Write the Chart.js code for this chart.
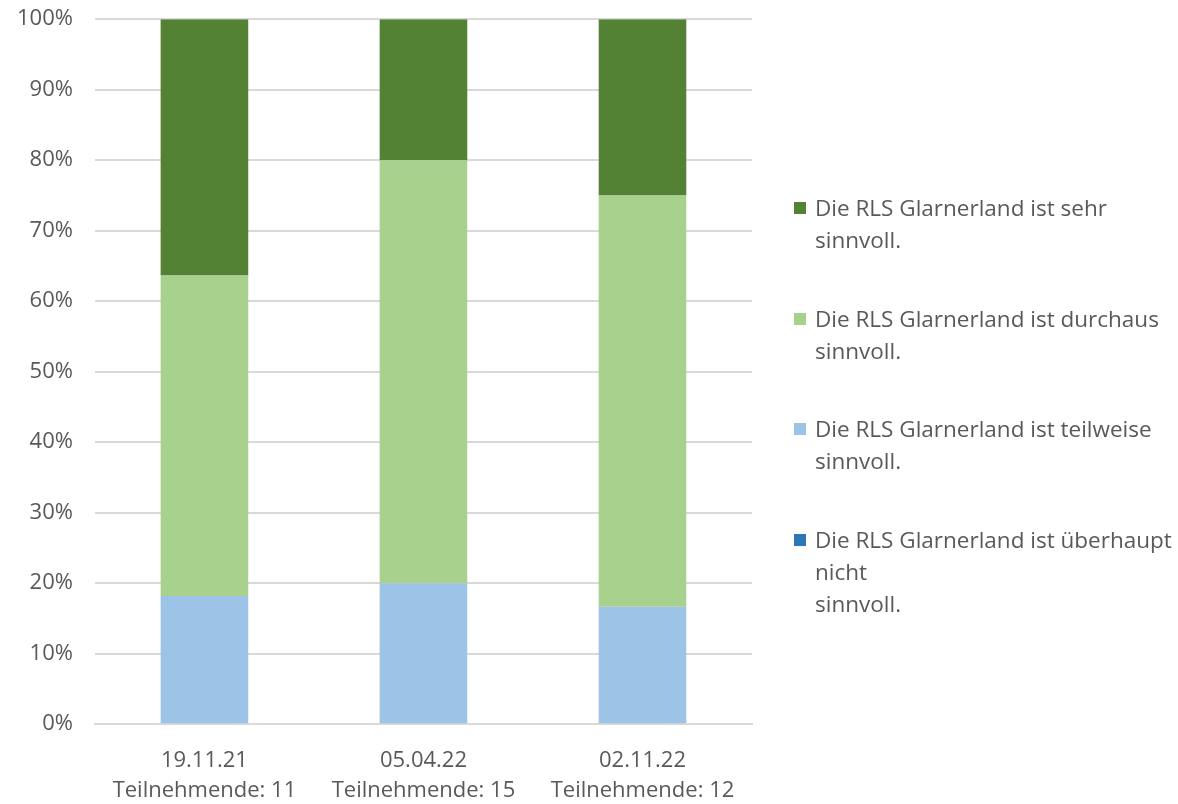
<!DOCTYPE html>
<html><head><meta charset="utf-8">
<script src="https://cdn.jsdelivr.net/npm/chart.js@4/dist/chart.umd.min.js"></script>
<style>
html,body{margin:0;padding:0;background:#fff;overflow:hidden;}
#wrap{position:relative;width:1178px;height:804px;overflow:hidden;}
#c{position:absolute;left:-5px;top:-16px;}
#legend{position:absolute;left:794px;top:0;font-family:"Open Sans",sans-serif;font-size:22.5px;color:#595959;line-height:32px;}
.item{position:absolute;left:0;white-space:nowrap;}
.sw{position:absolute;left:0;top:10px;width:12px;height:12px;}
.tx{position:absolute;left:21px;top:0;}
</style></head><body>
<div id="wrap"><canvas id="c" width="1183" height="844"></canvas><div id="legend"></div></div>
<script>
const categories = [["19.11.21","Teilnehmende: 11"],["05.04.22","Teilnehmende: 15"],["02.11.22","Teilnehmende: 12"]];
const seriesNames = [
  ["Die RLS Glarnerland ist überhaupt","nicht","sinnvoll."],
  ["Die RLS Glarnerland ist teilweise","sinnvoll."],
  ["Die RLS Glarnerland ist durchaus","sinnvoll."],
  ["Die RLS Glarnerland ist sehr","sinnvoll."]
];
const ueberhauptNicht = [0, 0, 0];
const teilweise = [18.18, 20.0, 16.67];
const durchaus = [45.45, 60.0, 58.33];
const sehr = [36.36, 20.0, 25.0];
const colors = ["#2E75B6","#9DC3E6","#A9D18E","#548235"];
const yTicks = [0,10,20,30,40,50,60,70,80,90,100];

const allData = [ueberhauptNicht, teilweise, durchaus, sehr];
const datasets = allData.map((d,i)=>({
  label: seriesNames[i].join(" "),
  data: d,
  backgroundColor: colors[i],
  borderWidth: 0,
  categoryPercentage: 1.0,
  barPercentage: 0.4
}));

new Chart(document.getElementById("c"), {
  type: "bar",
  data: { labels: categories, datasets },
  options: {
    responsive: false,
    animation: false,
    layout: { padding: { left: 0, top: 0, right: 426, bottom: 0 } },
    plugins: { legend: { display: false }, tooltip: { enabled: false } },
    scales: {
      x: {
        stacked: true,
        grid: { display: false, drawTicks: false },
        border: { display: true, color: "#D9D9D9", width: 2 },
        ticks: { color: "#595959", font: { family: "Open Sans", size: 22, lineHeight: 1.36 }, padding: 22, maxRotation: 0 }
      },
      y: {
        stacked: true,
        min: 0, max: 100,
        afterBuildTicks: (axis) => { axis.ticks = yTicks.map(v => ({ value: v })); },
        grid: { color: "#D9D9D9", lineWidth: 2, drawTicks: false },
        border: { display: false },
        ticks: { color: "#595959", font: { family: "Open Sans", size: 22 }, padding: 22, callback: v => v + "%" }
      }
    }
  }
});

const legendTops = [192, 303, 413, 524];
const order = [3,2,1,0];
const lg = document.getElementById("legend");
order.forEach((si, k) => {
  const it = document.createElement("div");
  it.className = "item";
  it.style.top = legendTops[k] + "px";
  it.innerHTML = '<div class="sw" style="background:' + colors[si] + '"></div><div class="tx">' + seriesNames[si].join("<br>") + '</div>';
  lg.appendChild(it);
});
</script>
</body></html>
